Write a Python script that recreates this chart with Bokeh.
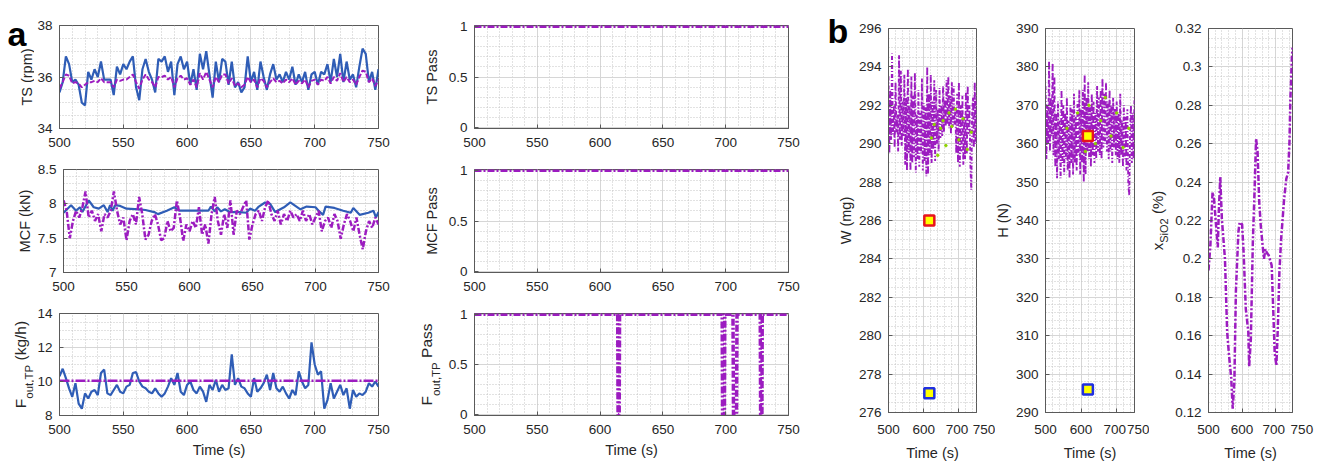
import numpy as np
from bokeh.plotting import figure
from bokeh.layouts import row, column
from bokeh.models import Range1d, SingleIntervalTicker, FixedTicker, CustomJSTickFormatter
from bokeh.core.properties import value
from bokeh.embed import file_html
from bokeh.resources import INLINE

# ---------------- data ----------------
TS_MEAS = [35.4, 35.8, 36.8, 36.5, 35.8, 35.9, 35.7, 35.0, 34.9, 36.2,
           35.9, 36.3, 36.0, 36.6, 35.9, 35.9, 35.9, 35.3, 36.4, 36.1,
           36.5, 36.3, 36.6, 36.8, 35.6, 35.1, 36.3, 36.7, 36.2, 35.9,
           35.4, 36.7, 36.6, 36.8, 36.2, 36.6, 35.3, 36.5, 36.8, 36.3,
           36.6, 35.7, 36.3, 35.5, 36.9, 36.3, 37.0, 36.1, 35.2, 36.6,
           35.8, 36.7, 36.6, 35.7, 36.6, 35.6, 35.8, 35.4, 35.6, 36.8,
           35.8, 36.2, 35.5, 36.6, 36.0, 35.5, 36.1, 36.5, 35.9, 36.1,
           35.8, 36.2, 35.9, 36.4, 35.7, 36.1, 35.8, 36.2, 35.5, 36.1,
           36.2, 35.7, 36.2, 36.1, 36.5, 35.8, 36.7, 36.0, 36.9, 35.8,
           36.6, 35.9, 36.1, 35.6, 36.4, 37.1, 36.9, 35.8, 36.2, 35.5,
           36.3]
TS_PRED = [35.55, 35.8, 36.1, 36.05, 35.75, 35.8, 35.75, 35.6, 35.7, 35.8,
           35.8, 35.85, 35.8, 35.95, 35.8, 35.8, 35.8, 35.6, 35.9, 35.85,
           35.9, 35.9, 36.0, 36.1, 35.8, 35.55, 35.9, 36.1, 35.9, 35.8,
           35.6, 36.0, 36.0, 36.05, 35.9, 36.0, 35.6, 35.95, 36.05, 35.9,
           35.95, 35.7, 35.9, 35.6, 36.15, 35.9, 36.2, 35.9, 35.6, 36.0,
           35.8, 36.1, 36.1, 35.75, 35.95, 35.65, 35.75, 35.6, 35.7, 36.0,
           35.8, 35.9, 35.6, 35.95, 35.85, 35.6, 35.8, 35.95, 35.8, 35.85,
           35.75, 35.9, 35.8, 35.95, 35.7, 35.85, 35.75, 35.9, 35.6, 35.85,
           35.9, 35.7, 35.9, 35.85, 36.0, 35.75, 36.0, 35.85, 36.15, 35.8,
           36.0, 35.8, 35.9, 35.7, 36.0, 36.25, 36.2, 35.8, 35.95, 35.65,
           35.9]

MCF_T = [500, 506, 510, 513, 515, 520, 524, 528, 532, 535, 537, 539, 541, 545, 550,
         560, 565, 572, 575, 582, 588, 592, 615, 617, 620, 622, 625, 628, 632, 640,
         645, 648, 652, 655, 660, 664, 668, 675, 680, 688, 693, 700, 703, 706, 708,
         715, 722, 728, 730, 735, 742, 746, 748, 750]
MCF_MEAS = [7.87, 7.98, 7.9, 7.95, 7.88, 8.05, 7.95, 7.93, 7.98, 7.88, 7.98, 7.9, 7.98, 7.97, 7.93,
            7.92, 7.91, 7.88, 7.85, 7.9, 7.95, 7.9, 7.9, 7.96, 7.89, 7.95, 7.89, 7.92, 7.88, 7.88,
            7.87, 7.93, 7.9, 7.96, 8.02, 8.0, 7.88, 7.95, 8.02, 7.92, 7.96, 7.95, 7.89, 7.84, 7.96,
            7.94, 7.9, 7.87, 7.94, 7.84, 7.87, 7.9, 7.8, 7.88]
MCF_PRED = [8.05, 7.9, 7.5, 7.75, 7.9, 7.8, 7.95, 8.18, 7.8, 7.9,
            7.75, 7.85, 7.6, 7.85, 7.8, 7.9, 8.18, 7.9, 7.7, 7.8,
            7.47, 7.75, 7.85, 7.7, 8.1, 7.85, 7.48, 7.55, 7.75, 7.85,
            7.7, 7.47, 7.5, 7.75, 7.6, 7.65, 8.05, 7.8, 7.46, 7.7,
            7.6, 7.75, 7.65, 7.95, 7.55, 7.7, 7.42, 7.85, 8.1, 7.75,
            7.55, 7.85, 7.65, 8.05, 7.55, 7.9, 7.85, 7.95, 8.05, 7.48,
            7.7, 7.85, 7.9, 7.75, 7.95, 8.05, 7.85, 7.75, 7.9, 7.7,
            7.85, 7.75, 7.9, 7.8, 7.85, 7.75, 7.9, 7.75, 7.85, 7.7,
            7.8, 7.9, 7.6, 7.75, 7.8, 7.65, 7.85, 7.75, 7.49, 7.7,
            7.85, 7.75, 7.6, 7.8, 7.55, 7.34, 7.6, 7.75, 7.65, 7.8,
            7.7]

F_MEAS = [10.3, 10.75, 10.2, 9.6, 9.1, 9.9, 8.7, 8.4, 9.3, 9.0,
          9.4, 9.5, 9.2, 10.5, 10.7, 9.3, 9.2, 9.5, 9.8, 9.4,
          9.3, 9.7, 9.8, 10.5, 10.55, 10.0, 9.7, 9.6, 9.4, 9.3,
          9.6, 9.3, 9.1, 9.3, 9.7, 10.2, 9.8, 10.5, 9.4, 9.2,
          9.8, 10.0, 9.5, 9.3, 9.7, 9.4, 8.8, 9.8, 9.5, 10.1,
          9.4, 9.8, 9.5, 9.6, 11.6, 9.8, 10.2, 9.7, 9.6, 9.3,
          9.1, 10.2, 9.4, 9.6, 9.9, 10.4, 9.5, 10.5, 9.6, 9.4,
          9.7, 9.3, 9.0, 9.5, 9.2, 10.6, 10.0, 9.6, 9.8, 12.3,
          11.0, 10.4, 10.6, 8.4, 8.9, 9.9, 9.0, 9.4, 9.8, 9.2,
          9.6, 8.4, 9.5, 9.1, 9.3, 9.2, 9.4, 9.9, 9.7, 10.0,
          9.7]
F_SET_T = [500, 750]
F_SET = [10.05, 10.05]

PASS_T = [500, 750]
TS_PASS = [1, 1]
MCF_PASS = [1, 1]
FP_T = [500, 614, 614.3, 615.2, 615.5, 697.2, 697.5, 699, 699.3, 705.8, 706.2,
        708.6, 709, 727.5, 727.8, 728.8, 729.1, 750]
FP_V = [1, 1, 0, 0, 1, 1, 0, 0, 1, 1, 0, 0, 1, 1, 0, 0, 1, 1]

W_VALS = [293.5, 289.5, 292.8, 290.2, 294.7, 290.5, 292.0, 289.8, 293.2, 290.6,
          291.5, 289.6, 294.6, 290.2, 293.8, 289.9, 292.2, 290.4, 293.6, 288.9,
          292.4, 288.6, 293.9, 289.5, 292.0, 288.6, 293.5, 289.0, 292.5, 289.3,
          293.7, 288.5, 291.5, 289.2, 292.8, 288.8, 291.6, 289.5, 293.4, 288.6,
          292.1, 289.1, 291.9, 288.3, 294.0, 288.4, 292.6, 289.4, 293.6, 289.0,
          292.2, 289.7, 293.3, 289.1, 292.8, 290.0, 291.8, 289.6, 292.9, 290.3,
          292.0, 290.4, 293.0, 290.6, 292.3, 290.9, 293.3, 291.0, 293.5, 290.8,
          292.5, 290.5, 293.2, 290.9, 293.0, 291.0, 291.8, 289.5, 292.6, 289.0,
          293.2, 288.8, 292.0, 289.6, 292.5, 288.9, 291.4, 289.2, 292.7, 289.5,
          293.0, 290.5, 292.0, 289.0, 287.6, 291.5, 292.4, 289.8, 293.2, 290.0,
          292.5]
H_VALS = [375, 356, 370, 360, 381.5, 358, 372, 362, 381, 357,
          377.5, 354, 368, 351, 371, 356, 366, 351, 374, 355,
          370, 352, 368, 356, 372, 353, 366, 351, 370, 355,
          369, 352, 373, 355, 367, 353, 371, 357, 374, 352,
          369, 355, 374, 350, 378, 352, 372, 358, 376, 356,
          370, 354, 373, 357, 371, 355, 368, 356, 375, 358,
          372, 357, 374, 356, 377, 359, 373, 360, 376, 358,
          371, 356, 374, 358, 370, 355, 372, 359, 369, 357,
          371, 356, 368, 355, 373, 357, 366, 354, 370, 356,
          367, 353, 369, 350, 346.5, 362, 370, 355, 368, 356,
          372]
XS_T = [500, 505.6, 512, 516.6, 524, 527.7, 530.5, 535, 539.7, 549,
        555.5, 561, 567.6, 572, 577, 581.5, 589, 592.6, 600, 604.6,
        611, 618.5, 621, 626, 632, 637, 641.6, 646, 651, 655.5,
        660, 665, 669.5, 674, 679, 688, 692.6, 697, 702, 706.5,
        711, 716, 725, 731.5, 737, 741, 743.5, 748, 750]
XS = [0.194, 0.207, 0.2347, 0.231, 0.214, 0.206, 0.224, 0.2426, 0.221, 0.200,
      0.162, 0.150, 0.138, 0.122, 0.136, 0.183, 0.214, 0.219, 0.218, 0.203,
      0.174, 0.162, 0.144, 0.158, 0.209, 0.235, 0.2626, 0.256, 0.2295, 0.2174,
      0.209, 0.200, 0.205, 0.203, 0.202, 0.1966, 0.174, 0.151, 0.1445, 0.165,
      0.193, 0.210, 0.231, 0.2417, 0.245, 0.261, 0.282, 0.3042, 0.310]

W_DOT_T = [622, 630, 640, 648, 655, 663, 672, 680, 690, 700, 712, 724, 735]
W_DOT = [290.3, 291.0, 289.4, 290.8, 291.2, 289.9, 291.6, 290.9, 291.8, 290.2, 291.3, 289.7, 290.6]
H_DOT_T = [560, 590, 612, 622, 640, 655, 668, 684, 700, 718, 734]
H_DOT = [364, 368, 358, 370, 360, 366, 372, 362, 368, 359, 364]

W_MARK_T = [616, 616]
W_MARK = [286, 277]
H_MARK_T = [619, 619]
H_MARK = [362, 296]
MARK_EDGE = ["#e8141e", "#1f2fe0"]

# ---------------- styling ----------------
FONT = "Liberation Sans"
AXC = "#5a5a5a"
TXT = "#262626"
BLUE = "#2f5db6"
PURP = "#9c1cc0"
GREEN = "#8fd400"
H_TOTAL = 464

EM = {"F": .611, "o": .556, "u": .556, "t": .278, ",": .278, "T": .611, "P": .667,
      " ": .278, "(": .333, "k": .5, "g": .556, "/": .278, "h": .556, ")": .333,
      "a": .556, "s": .5, "x": .5, "S": .667, "i": .222, "O": .778, "2": .556,
      "%": .889, "r": .333, "p": .556, "m": .833, "M": .833, "C": .722, "N": .722,
      "W": .944, "H": .722}


def text_w(s, size):
    return sum(EM.get(c, 0.55) for c in s) * size


def tgrid(vals):
    return np.linspace(500, 750, len(vals))


def num_fmt():
    return CustomJSTickFormatter(code="return String(Math.round(tick*1e6)/1e6);")


def b_fmt(k):
    pad = "\\u00a0" * k
    return CustomJSTickFormatter(code=(
        "var v = Math.round(tick*1e6)/1e6;"
        "if (v === 750) { return '" + pad + "750'; }"
        "if (v === 700) { return '700\\u00a0'; }"
        "return String(v);"))


def make(w, h, bl, br, bt, bb, xr, yr, xtick, ytick, xfmt, time_label):
    p = figure(width=w, height=h, x_range=Range1d(*xr), y_range=Range1d(*yr),
               output_backend="svg", toolbar_location=None, title=None,
               min_border_left=bl, min_border_right=br,
               min_border_top=bt, min_border_bottom=bb)
    p.frame_align = False
    p.xaxis.ticker = xtick
    p.yaxis.ticker = ytick
    p.xaxis.formatter = xfmt
    p.yaxis.formatter = num_fmt()
    for ax in (p.xaxis[0], p.yaxis[0]):
        ax.major_tick_in = 4
        ax.major_tick_out = 0
        ax.minor_tick_line_color = None
        ax.axis_line_color = AXC
        ax.major_tick_line_color = AXC
        ax.major_label_text_font = FONT
        ax.major_label_text_font_size = "13.5px"
        ax.major_label_text_color = TXT
    p.xaxis.major_label_standoff = 5
    p.yaxis.major_label_standoff = 3
    if time_label:
        p.xaxis.axis_label = "Time (s)"
        p.xaxis.axis_label_text_font = FONT
        p.xaxis.axis_label_text_font_size = "14.5px"
        p.xaxis.axis_label_text_font_style = "normal"
        p.xaxis.axis_label_text_color = TXT
        p.xaxis.axis_label_standoff = 5
    p.outline_line_color = AXC
    p.outline_line_alpha = 1
    for g in (p.xgrid[0], p.ygrid[0]):
        g.grid_line_color = "#d6d6d6"
        g.minor_grid_line_color = "#c4c4c4"
        g.minor_grid_line_dash = "1 2"
    return p


def strip(width):
    s = figure(width=width, height=H_TOTAL, x_range=Range1d(0, width), y_range=Range1d(0, H_TOTAL),
               x_axis_type=None, y_axis_type=None, output_backend="svg", toolbar_location=None,
               title=None, min_border_left=0, min_border_right=0, min_border_top=0,
               min_border_bottom=0)
    s.frame_align = False
    s.outline_line_color = None
    return s


def vlabel(s, x, screen_yc, parts):
    """Rotated (bottom-to-top) label made of parts (text, size, dx)."""
    widths = [text_w(t, sz) for t, sz, _ in parts]
    y = (H_TOTAL - screen_yc) - sum(widths) / 2
    for (t, sz, dx), wd in zip(parts, widths):
        lead = len(t) - len(t.lstrip(" "))
        s.text(x=[x + dx], y=[y + lead * EM[" "] * sz], text=[t.lstrip(" ")], angle=np.pi / 2,
               text_font=value(FONT), text_font_size=value(f"{sz}px"), text_color=TXT,
               text_align="left", text_baseline="middle")
        y += wd


def letter(s, x, screen_y, t):
    s.text(x=[x], y=[H_TOTAL - screen_y], text=[t], text_font=value(FONT),
           text_font_size=value("34px"), text_font_style="bold", text_color="black",
           text_align="left", text_baseline="alphabetic")


def a_xtick():
    return SingleIntervalTicker(interval=50, num_minor_ticks=5)


def b_xtick():
    return FixedTicker(ticks=[500, 600, 700, 750], minor_ticks=list(range(520, 750, 20)))


XR = (500, 750)

# ---------------- panel a, left column ----------------
TS_R = (34, 38)
p1 = make(384, 150, 25, 40, 25, 22, XR, TS_R, a_xtick(),
          SingleIntervalTicker(interval=2, num_minor_ticks=4), num_fmt(), False)
p1.line(tgrid(TS_MEAS), TS_MEAS, color=BLUE, line_width=2.2)
p1.line(tgrid(TS_PRED), TS_PRED, color=PURP, line_width=2, line_dash="5 2")

MCF_R = (7, 8.5)
p2 = make(384, 145, 25, 40, 19, 23, XR, MCF_R, a_xtick(),
          SingleIntervalTicker(interval=0.5, num_minor_ticks=5), num_fmt(), False)
p2.line(MCF_T, MCF_MEAS, color=BLUE, line_width=2.2)
p2.line(tgrid(MCF_PRED), MCF_PRED, color=PURP, line_width=2.5, line_dash="6 2 2 2")

F_R = (8, 14)
p3 = make(384, 169, 25, 40, 18, 49, XR, F_R, a_xtick(),
          SingleIntervalTicker(interval=2, num_minor_ticks=4), num_fmt(), True)
p3.line(tgrid(F_MEAS), F_MEAS, color=BLUE, line_width=2.2)
p3.line(F_SET_T, F_SET, color=PURP, line_width=2.5, line_dash="10 2 2 2")

sa = strip(34)
letter(sa, 7, 33, "a")
vlabel(sa, 26.5, 76.5, [("TS (rpm)", 14.5, 0)])
vlabel(sa, 24, 220.5, [("MCF (kN)", 14.5, 0)])
vlabel(sa, 19.5, 364, [("F", 15.5, 0), ("out,TP", 11.5, 9), (" (kg/h)", 15.5, 0)])

# ---------------- panel a, right column ----------------
PR = (-0.008, 1.008)
q1 = make(380, 150, 24, 37, 25, 22, XR, PR, a_xtick(),
          SingleIntervalTicker(interval=0.5, num_minor_ticks=5), num_fmt(), False)
q1.line(PASS_T, TS_PASS, color=PURP, line_width=3.5, line_dash="7 2 2 2")

q2 = make(380, 145, 24, 37, 19, 23, XR, PR, a_xtick(),
          SingleIntervalTicker(interval=0.5, num_minor_ticks=5), num_fmt(), False)
q2.line(PASS_T, MCF_PASS, color=PURP, line_width=3.5, line_dash="7 2 2 2")

q3 = make(380, 169, 24, 37, 18, 49, XR, PR, a_xtick(),
          SingleIntervalTicker(interval=0.5, num_minor_ticks=5), num_fmt(), True)
q3.line(FP_T, FP_V, color=PURP, line_width=3.5, line_dash="7 2 2 2")

sb = strip(27)
vlabel(sb, 13.5, 76.5, [("TS Pass", 14.5, 0)])
vlabel(sb, 13.5, 220.5, [("MCF Pass", 14.5, 0)])
vlabel(sb, 8.2, 364, [("F", 15.5, 0), ("out,TP", 11.5, 9), (" Pass", 15.5, 0)])

# ---------------- panel b ----------------
W_R = (276, 296)
bw = make(140, 464, 29, 19, 28, 52, XR, W_R, b_xtick(),
          SingleIntervalTicker(interval=2, num_minor_ticks=4), b_fmt(4), True)
bw.line(tgrid(W_VALS), W_VALS, color=PURP, line_width=1.9, line_dash="4 2 1 2")
bw.scatter(W_DOT_T, W_DOT, size=2.5, color=GREEN)
bw.scatter(W_MARK_T, W_MARK, marker="square", size=10, fill_color="#ffff00",
           line_color=MARK_EDGE, line_width=2.5)
sw = strip(30)
letter(sw, 2, 30, "b")
vlabel(sw, 20, 220, [("W (mg)", 14.5, 0)])

H_R = (290, 390)
bh = make(137, 464, 31, 15, 28, 52, XR, H_R, b_xtick(),
          SingleIntervalTicker(interval=10, num_minor_ticks=5), b_fmt(2), True)
bh.line(tgrid(H_VALS), H_VALS, color=PURP, line_width=1.9, line_dash="4 2 1 2")
bh.scatter(H_DOT_T, H_DOT, size=2.5, color=GREEN)
bh.scatter(H_MARK_T, H_MARK, marker="square", size=10, fill_color="#ffff00",
           line_color=MARK_EDGE, line_width=2.5)
sh = strip(17)
vlabel(sh, 7.8, 220, [("H (N)", 14.5, 0)])

X_R = (0.12, 0.32)
bx = make(161, 464, 30, 41, 28, 52, XR, X_R, b_xtick(),
          SingleIntervalTicker(interval=0.02, num_minor_ticks=4), b_fmt(5), True)
bx.line(XS_T, XS, color=PURP, line_width=2.5, line_dash="6 2 2 2")
sx = strip(23)
vlabel(sx, 8, 220, [("x", 15, 0), ("SiO2", 11, 6.5), (" (%)", 15, 0)])

layout = row(sa, column(p1, p2, p3), sb, column(q1, q2, q3), sw, bw, sh, bh, sx, bx)

open("out.html", "w").write(file_html(layout, INLINE))
